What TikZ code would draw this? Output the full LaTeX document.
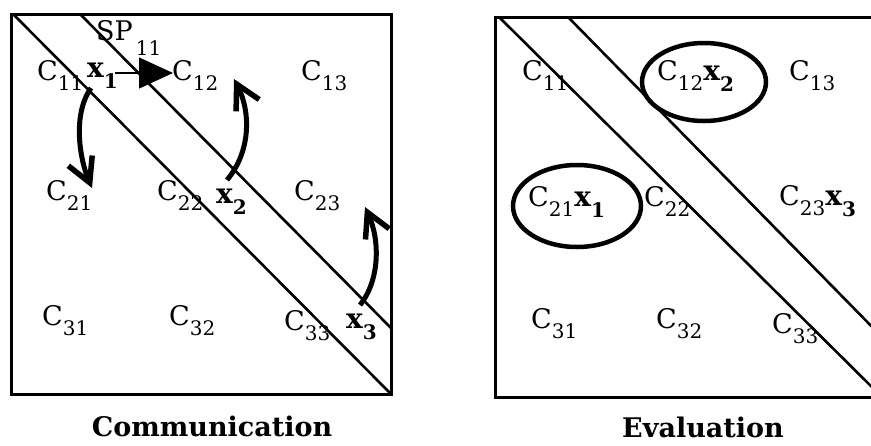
\documentclass[tikz,border=0pt]{standalone}
\usepackage{fontspec}
\setmainfont{DejaVu Serif}
\usetikzlibrary{arrows.meta,shapes.geometric}
\newcommand\bigf{\fontsize{27}{27}\selectfont}
\newcommand\subf{\fontsize{20}{20}\selectfont}
\newcommand\Cc[1]{C\raisebox{-10pt}{\subf #1}}
\newcommand\Xx[1]{{\fontsize{28}{28}\selectfont\bfseries x}\raisebox{-11pt}{\subf\bfseries #1}}
\begin{document}
\begin{tikzpicture}[x=1pt,y=-1pt,
  lbl/.style={anchor=base west,inner sep=0pt,font=\bigf},
  frame/.style={line width=3pt},
  diag/.style={line width=2.6pt},
  fat/.style={line width=5pt,-{Straight Barb[length=24pt,width=26pt,line width=5.5pt]}},
  oval/.style={draw,ellipse,line width=4.5pt,inner sep=0pt},
  title/.style={font=\fontsize{27}{27}\selectfont\bfseries,inner sep=0pt}]
\useasboundingbox (0,0) rectangle (871,445);
\clip (0,0) rectangle (871,445);

% ---------- left panel: Communication ----------
\draw[frame] (11,14) rectangle (391,394);
\draw[diag] (13,14) -- (390,393);
\draw[diag] (80,14) -- (391,328);

\node[lbl] (l11) at (37,80) {\Cc{11}};
\node[lbl] (lx1) at (87,77) {\Xx{1}};
\node[lbl] (sp) at (96,40) {SP\kern3pt\raisebox{-15pt}{\subf 11}};
\node[lbl] (l12) at (172,80) {\Cc{12}};
\node[lbl] (l13) at (301,80) {\Cc{13}};
\node[lbl] (l21) at (46,200) {\Cc{21}};
\node[lbl] (l22) at (157,200) {\Cc{22}};
\node[lbl] (lx2) at (216,203) {\Xx{2}};
\node[lbl] (l23) at (294,200) {\Cc{23}};
\node[lbl] (l31) at (42,325) {\Cc{31}};
\node[lbl] (l32) at (169,325) {\Cc{32}};
\node[lbl] (l33) at (284,330) {\Cc{33}};
\node[lbl] (lx3) at (346,328) {\Xx{3}};

\coordinate (a1s) at (91,88);  \coordinate (a1e) at (92,188);
\coordinate (a2s) at (227,180); \coordinate (a2e) at (234,79);
\coordinate (a3s) at (360,305); \coordinate (a3e) at (365,207);
\coordinate (a4s) at (115,73);  \coordinate (a4e) at (173,73);

\draw[fat] (a1s) .. controls (72,115) and (80,160) .. (a1e);
\draw[fat] (a2s) .. controls (252,150) and (250,110) .. (a2e);
\draw[fat] (a3s) .. controls (380,280) and (380,240) .. (a3e);
\draw[line width=1.2pt,-{Triangle[length=34pt,width=31pt]}] (a4s) -- (a4e);

\node[title] (t1) at (212,426) {Communication};

% ---------- right panel: Evaluation ----------
\draw[frame] (495,17) rectangle (876,397);
\draw[diag] (499,17) -- (885,400);
\draw[diag] (568,17) -- (885,340);

\node[oval,minimum width=124pt,minimum height=78pt] (e12) at (704,82) {};
\node[oval,minimum width=128pt,minimum height=82pt] (e21) at (577,206) {};

\node[lbl] (r11) at (522,80) {\Cc{11}};
\node[lbl] (r12) at (657,80) {\Cc{12}\Xx{2}};
\node[lbl] (r13) at (789,80) {\Cc{13}};
\node[lbl] (r21) at (528,206) {\Cc{21}\Xx{1}};
\node[lbl] (r22) at (644,206) {\Cc{22}};
\node[lbl] (r23) at (779,205) {\Cc{23}\Xx{3}};
\node[lbl] (r31) at (531,328) {\Cc{31}};
\node[lbl] (r32) at (656,328) {\Cc{32}};
\node[lbl] (r33) at (772,333) {\Cc{33}};

\node[title] (t2) at (703,427) {Evaluation};
\end{tikzpicture}
\end{document}
